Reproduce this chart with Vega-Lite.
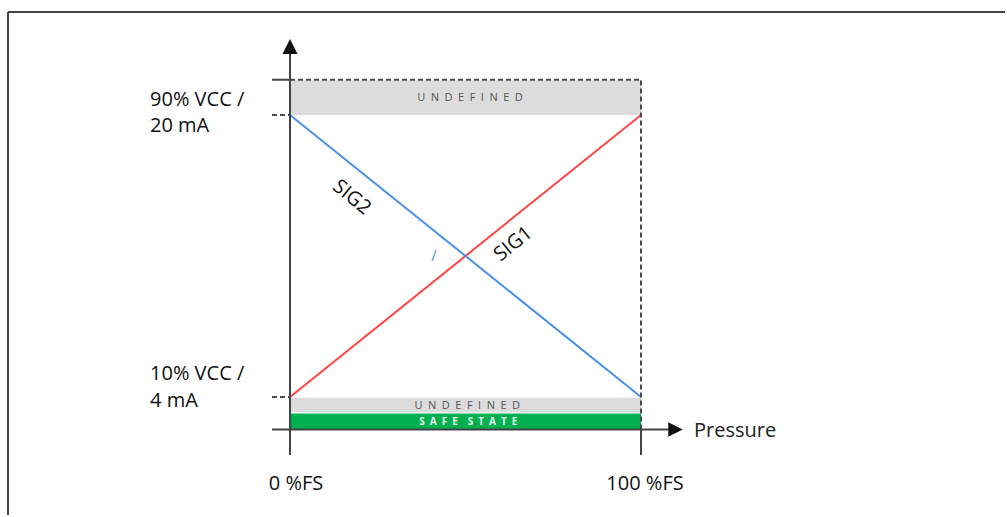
{
  "$schema": "https://vega.github.io/schema/vega-lite/v6.json",
  "width": 1007,
  "height": 517,
  "padding": 0,
  "autosize": {"type": "fit", "contains": "padding"},
  "background": "white",
  "config": {"view": {"stroke": null}, "font": "Open Sans"},
  "resolve": {"scale": {"color": "independent"}},
  "datasets": {
    "bands": [
      {"kind": "undefined", "x": 0, "x2": 100, "y": 90, "y2": 100},
      {"kind": "undefined", "x": 0, "x2": 100, "y": 5.7, "y2": 9.8},
      {"kind": "safe", "x": 0, "x2": 100, "y": 0.8, "y2": 5.3}
    ],
    "solid": [
      {"part": "frame top", "x": -80.34, "x2": 203.7, "y": 119.2, "y2": 119.2},
      {"part": "frame left", "x": -80.34, "x2": -80.34, "y": -23.47, "y2": 119.2},
      {"part": "value axis", "x": 0, "x2": 0, "y": -6.46, "y2": 108.4},
      {"part": "pressure axis", "x": -5.13, "x2": 108.3, "y": 0.8, "y2": 0.8},
      {"part": "top tick", "x": -5.13, "x2": 0, "y": 100, "y2": 100},
      {"part": "100 tick", "x": 100, "x2": 100, "y": -6.46, "y2": 0.8}
    ],
    "dashed": [
      {"part": "box top", "x": 0, "x2": 100, "y": 100, "y2": 100},
      {"part": "box right", "x": 100, "x2": 100, "y": 0.8, "y2": 100},
      {"part": "90 tick", "x": -5.13, "x2": 0, "y": 90, "y2": 90},
      {"part": "10 tick", "x": -5.13, "x2": 0, "y": 10, "y2": 10}
    ],
    "arrows": [
      {"dir": "up", "x": 0, "y": 109.43},
      {"dir": "right", "x": 109.83, "y": 0.8}
    ],
    "signals": [
      {"series": "SIG1", "x": 0, "y": 10},
      {"series": "SIG1", "x": 100, "y": 90},
      {"series": "SIG2", "x": 0, "y": 90},
      {"series": "SIG2", "x": 100, "y": 10}
    ],
    "blip": [
      {"x": 40.5, "y": 48.6},
      {"x": 41.6, "y": 51.6}
    ],
    "labels": [
      {"kind": "level", "text": "90% VCC /", "x": -39.88, "y": 92.63},
      {"kind": "level", "text": "20 mA", "x": -39.88, "y": 85.26},
      {"kind": "level", "text": "10% VCC /", "x": -39.88, "y": 14.82},
      {"kind": "level", "text": "4 mA", "x": -39.88, "y": 7.24},
      {"kind": "fs", "text": "0 %FS", "x": 1.71, "y": -16.39},
      {"kind": "fs", "text": "100 %FS", "x": 101.14, "y": -16.39},
      {"kind": "axisname", "text": "Pressure", "x": 115.1, "y": -1.35},
      {"kind": "band", "text": "U\u2002N\u2002D\u2002E\u2002F\u2002I\u2002N\u2002E\u2002D", "x": 51.3, "y": 94.82},
      {"kind": "band", "text": "U\u2002N\u2002D\u2002E\u2002F\u2002I\u2002N\u2002E\u2002D", "x": 50.5, "y": 7.5},
      {"kind": "safe", "text": "S\u2002A\u2002F\u2002E\u2002\u2002S\u2002T\u2002A\u2002T\u2002E", "x": 50.8, "y": 2.9},
      {"kind": "sig2", "text": "SIG2", "x": 17.58, "y": 66.65},
      {"kind": "sig1", "text": "SIG1", "x": 63.62, "y": 53.4}
    ]
  },
  "encoding": {
    "x": {"field": "x", "type": "quantitative", "scale": {"domain": [-82.62, 204.27], "nice": false, "zero": false}, "axis": null},
    "y": {"field": "y", "type": "quantitative", "scale": {"domain": [-24.05, 122.62], "nice": false, "zero": false}, "axis": null}
  },
  "layer": [
    {
      "data": {"name": "bands"},
      "mark": {"type": "rect"},
      "encoding": {
        "x2": {"field": "x2"},
        "y2": {"field": "y2"},
        "color": {"field": "kind", "type": "nominal", "scale": {"domain": ["undefined", "safe"], "range": ["#dcdcdc", "#00b050"]}, "legend": null}
      }
    },
    {
      "data": {"name": "signals"},
      "mark": {"type": "line", "strokeWidth": 2},
      "encoding": {
        "color": {"field": "series", "type": "nominal", "scale": {"domain": ["SIG1", "SIG2"], "range": ["#ff4444", "#4a90e8"]}, "legend": null}
      }
    },
    {
      "data": {"name": "blip"},
      "mark": {"type": "line", "strokeWidth": 1.5, "color": "#6aa8f2"},
      "encoding": {}
    },
    {
      "data": {"name": "dashed"},
      "mark": {"type": "rule", "color": "#4a4a4a", "strokeWidth": 2, "strokeDash": [5, 3]},
      "encoding": {
        "x2": {"field": "x2"},
        "y2": {"field": "y2"}
      }
    },
    {
      "data": {"name": "solid"},
      "mark": {"type": "rule", "color": "#444444", "strokeWidth": 2},
      "encoding": {
        "x2": {"field": "x2"},
        "y2": {"field": "y2"}
      }
    },
    {
      "data": {"name": "arrows"},
      "transform": [{"filter": "datum.dir === 'up'"}],
      "mark": {"type": "point", "shape": "M0,-1L1,1L-1,1Z", "filled": true, "color": "#111111", "size": 225, "opacity": 1}
    },
    {
      "data": {"name": "arrows"},
      "transform": [{"filter": "datum.dir === 'right'"}],
      "mark": {"type": "point", "shape": "M1,0L-1,-1L-1,1Z", "filled": true, "color": "#111111", "size": 210, "opacity": 1}
    },
    {
      "data": {"name": "labels"},
      "transform": [{"filter": "datum.kind === 'level'"}],
      "mark": {"type": "text", "align": "left", "baseline": "alphabetic", "fontSize": 20, "color": "#111111"},
      "encoding": {"text": {"field": "text"}}
    },
    {
      "data": {"name": "labels"},
      "transform": [{"filter": "datum.kind === 'fs'"}],
      "mark": {"type": "text", "align": "center", "baseline": "alphabetic", "fontSize": 20, "color": "#111111"},
      "encoding": {"text": {"field": "text"}}
    },
    {
      "data": {"name": "labels"},
      "transform": [{"filter": "datum.kind === 'axisname'"}],
      "mark": {"type": "text", "align": "left", "baseline": "alphabetic", "fontSize": 20, "color": "#222222"},
      "encoding": {"text": {"field": "text"}}
    },
    {
      "data": {"name": "labels"},
      "transform": [{"filter": "datum.kind === 'band'"}],
      "mark": {"type": "text", "align": "center", "baseline": "middle", "fontSize": 11, "color": "#555555"},
      "encoding": {"text": {"field": "text"}}
    },
    {
      "data": {"name": "labels"},
      "transform": [{"filter": "datum.kind === 'safe'"}],
      "mark": {"type": "text", "align": "center", "baseline": "middle", "fontSize": 10, "fontWeight": "bold", "color": "#e8f8ee"},
      "encoding": {"text": {"field": "text"}}
    },
    {
      "data": {"name": "labels"},
      "transform": [{"filter": "datum.kind === 'sig2'"}],
      "mark": {"type": "text", "align": "center", "baseline": "middle", "fontSize": 20, "angle": 39, "color": "#111111"},
      "encoding": {"text": {"field": "text"}}
    },
    {
      "data": {"name": "labels"},
      "transform": [{"filter": "datum.kind === 'sig1'"}],
      "mark": {"type": "text", "align": "center", "baseline": "middle", "fontSize": 20, "angle": -39, "color": "#111111"},
      "encoding": {"text": {"field": "text"}}
    }
  ]
}
